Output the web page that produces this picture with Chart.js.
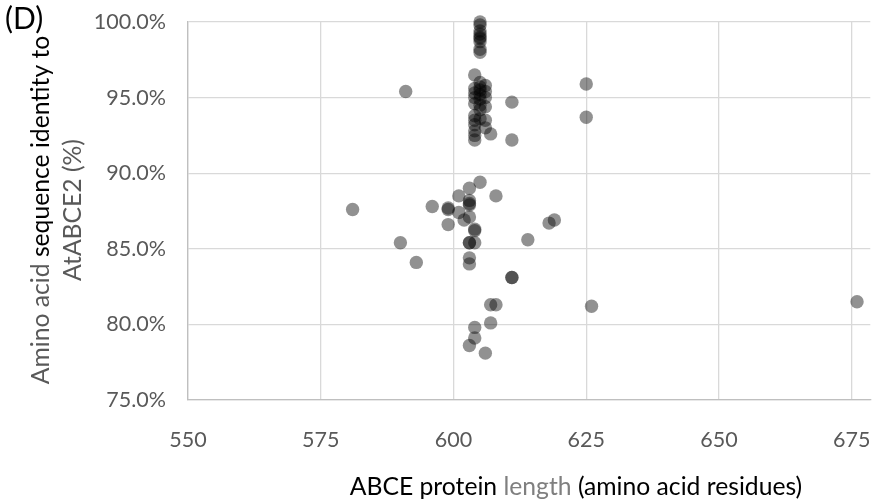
<!DOCTYPE html>
<html>
<head>
<meta charset="utf-8">
<script src="https://cdn.jsdelivr.net/npm/chart.js@4/dist/chart.umd.min.js"></script>
<style>
  html, body { margin: 0; padding: 0; background: #ffffff; }
  #wrap { position: relative; width: 877px; height: 504px; }
</style>
</head>
<body>
<div id="wrap"><canvas id="scatterChart" width="877" height="504"></canvas></div>
<script>
// ABCE protein length (x) vs identity to AtABCE2 in % (y), one entry per protein
const proteinLength = [
    605, 605, 605, 605, 605, 605, 605, 605, 605,
    604, 604, 604, 604, 604, 604, 604, 604, 604, 604, 604,
    605, 605, 605, 605, 605, 605, 605, 605,
    606, 606, 606, 606, 606, 606,
    591, 611, 611, 607, 625, 625,
    605, 603, 608, 601, 603, 603, 603, 596, 599, 599, 601, 602, 603, 599, 604, 604,
    581, 590, 603, 603, 604, 614, 618, 619,
    593, 603, 603, 611, 611, 607, 608, 626, 676,
    607, 604, 604, 603, 606
];
const identityPct = [
    100.0, 99.8, 99.4, 99.2, 99.0, 98.9, 98.7, 98.2, 98.0,
    96.5, 95.6, 95.3, 95.0, 94.6, 93.8, 93.5, 93.2, 92.8, 92.5, 92.2,
    96.0, 95.7, 95.5, 95.2, 94.9, 94.5, 94.2, 93.6,
    95.8, 95.4, 95.0, 94.4, 93.5, 93.0,
    95.4, 94.7, 92.2, 92.6, 95.9, 93.7,
    89.4, 89.0, 88.5, 88.5, 88.2, 88.0, 87.9, 87.8, 87.7, 87.6, 87.4, 86.9, 87.1, 86.6, 86.3, 86.2,
    87.6, 85.4, 85.4, 85.4, 85.4, 85.6, 86.7, 86.9,
    84.1, 84.4, 84.0, 83.1, 83.1, 81.3, 81.3, 81.2, 81.5,
    80.1, 79.8, 79.1, 78.6, 78.1
];

const xTicks = [550, 575, 600, 625, 650, 675];
const yTicks = [75, 80, 85, 90, 95, 100];

// axis titles have mixed text colours, so they are drawn by a small plugin
const xTitleParts = [
    ["ABCE protein ", "#000000"],
    ["length", "#7f7f7f"],
    [" (amino acid residues)", "#000000"]
];
const yTitleLine1 = [
    ["Amino acid ", "#595959"],
    ["sequence identity to", "#000000"]
];
const yTitleLine2 = [
    ["AtABCE2 (%)", "#595959"]
];

const FONT = "Lato, 'Noto Sans', sans-serif";

function drawParts(ctx, parts, cx, cy) {
    let total = 0;
    parts.forEach(p => total += ctx.measureText(p[0]).width);
    let x = cx - total / 2;
    parts.forEach(p => {
        ctx.fillStyle = p[1];
        ctx.fillText(p[0], x, cy);
        x += ctx.measureText(p[0]).width;
    });
}

const axisTitles = {
    id: "axisTitles",
    afterDraw(chart) {
        const ctx = chart.ctx;
        ctx.save();
        ctx.textAlign = "left";
        ctx.textBaseline = "middle";
        ctx.font = "24.7px " + FONT;

        // x title
        drawParts(ctx, xTitleParts, 576, 487);

        // y title, two lines rotated
        ctx.save();
        ctx.translate(41, 210);
        ctx.rotate(-Math.PI / 2);
        drawParts(ctx, yTitleLine1, 0, 0);
        ctx.restore();
        ctx.save();
        ctx.translate(73, 210);
        ctx.rotate(-Math.PI / 2);
        drawParts(ctx, yTitleLine2, 0, 0);
        ctx.restore();

        // panel letter
        ctx.font = "30px " + FONT;
        ctx.fillStyle = "#000000";
        ctx.fillText("(D)", 5, 19);
        ctx.restore();
    }
};

const points = proteinLength.map((len, i) => ({ x: len, y: identityPct[i] }));

new Chart(document.getElementById("scatterChart"), {
    type: "scatter",
    data: {
        datasets: [{
            data: points,
            backgroundColor: "rgba(0, 0, 0, 0.43)",
            borderWidth: 0,
            pointRadius: 6.7,
            pointHoverRadius: 6.7,
            clip: false
        }]
    },
    options: {
        responsive: false,
        animation: false,
        layout: { padding: { top: 22, right: 0, bottom: 0, left: 0 } },
        plugins: {
            legend: { display: false },
            tooltip: { enabled: false }
        },
        scales: {
            x: {
                type: "linear",
                min: 550,
                max: 678.5,
                afterBuildTicks: scale => {
                    scale.ticks = xTicks.map(v => ({ value: v }));
                },
                afterFit: scale => {
                    scale.height = 104;
                    scale.paddingLeft = 0;
                    scale.paddingRight = 0;
                },
                grid: { color: "#d9d9d9", lineWidth: 1.3, drawTicks: false },
                border: { color: "#bfbfbf", width: 1.3 },
                ticks: {
                    padding: 27,
                    color: "#595959",
                    font: { family: FONT, size: 21.5 },
                    maxRotation: 0
                }
            },
            y: {
                min: 75,
                max: 100,
                afterBuildTicks: scale => {
                    scale.ticks = yTicks.map(v => ({ value: v }));
                },
                afterFit: scale => {
                    scale.width = 188;
                    scale.paddingTop = 0;
                    scale.paddingBottom = 0;
                },
                grid: { color: "#d9d9d9", lineWidth: 1.3, drawTicks: false },
                border: { color: "#bfbfbf", width: 1.3 },
                ticks: {
                    padding: 22,
                    color: "#595959",
                    font: { family: FONT, size: 21.5 },
                    callback: v => v.toFixed(1) + "%"
                }
            }
        }
    },
    plugins: [axisTitles]
});
</script>
</body>
</html>
